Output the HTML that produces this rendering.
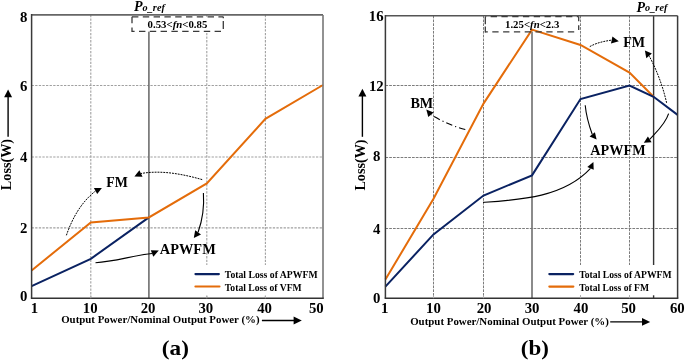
<!DOCTYPE html>
<html><head><meta charset="utf-8"><style>
html,body{margin:0;padding:0;background:#fff;}
svg{display:block;will-change:transform;}
text{font-family:"Liberation Serif", serif;font-weight:bold;fill:#000;}
</style></head><body>
<svg width="685" height="361" viewBox="0 0 685 361">
<rect width="685" height="361" fill="#fff"/>
<line x1="90.80" y1="14.90" x2="90.80" y2="298.30" stroke="#a0a0a0" stroke-width="1.1" stroke-dasharray="2.3 1.3"/>
<line x1="206.80" y1="14.90" x2="206.80" y2="298.30" stroke="#a0a0a0" stroke-width="1.1" stroke-dasharray="2.3 1.3"/>
<line x1="265.40" y1="14.90" x2="265.40" y2="298.30" stroke="#a0a0a0" stroke-width="1.1" stroke-dasharray="2.3 1.3"/>
<line x1="31.60" y1="227.90" x2="323.00" y2="227.90" stroke="#a0a0a0" stroke-width="1.1" stroke-dasharray="2.3 1.3"/>
<line x1="31.60" y1="157.00" x2="323.00" y2="157.00" stroke="#a0a0a0" stroke-width="1.1" stroke-dasharray="2.3 1.3"/>
<line x1="31.60" y1="85.50" x2="323.00" y2="85.50" stroke="#a0a0a0" stroke-width="1.1" stroke-dasharray="2.3 1.3"/>
<line x1="433.50" y1="15.70" x2="433.50" y2="298.20" stroke="#7c7c7c" stroke-width="1.0" stroke-dasharray="2.7 1.1"/>
<line x1="483.50" y1="15.70" x2="483.50" y2="298.20" stroke="#7c7c7c" stroke-width="1.0" stroke-dasharray="2.7 1.1"/>
<line x1="580.50" y1="15.70" x2="580.50" y2="298.20" stroke="#7c7c7c" stroke-width="1.0" stroke-dasharray="2.7 1.1"/>
<line x1="629.50" y1="15.70" x2="629.50" y2="298.20" stroke="#7c7c7c" stroke-width="1.0" stroke-dasharray="2.7 1.1"/>
<line x1="385.40" y1="228.50" x2="677.60" y2="228.50" stroke="#7c7c7c" stroke-width="1.0" stroke-dasharray="2.7 1.1"/>
<line x1="385.40" y1="157.50" x2="677.60" y2="157.50" stroke="#7c7c7c" stroke-width="1.0" stroke-dasharray="2.7 1.1"/>
<line x1="385.40" y1="85.50" x2="677.60" y2="85.50" stroke="#7c7c7c" stroke-width="1.0" stroke-dasharray="2.7 1.1"/>
<line x1="148.90" y1="31.50" x2="148.90" y2="298.30" stroke="#6e6e6e" stroke-width="1.6" />
<line x1="532.00" y1="31.50" x2="532.00" y2="298.20" stroke="#6e6e6e" stroke-width="1.6" />
<line x1="653.60" y1="15.70" x2="653.60" y2="298.20" stroke="#333" stroke-width="1.4" />
<rect x="186" y="265" width="136" height="30.3" fill="#fff"/>
<rect x="540" y="265" width="136.5" height="30.3" fill="#fff"/>
<polyline points="31.60,286.10 90.80,258.80 148.90,217.40" fill="none" stroke="#0A2262" stroke-width="2.0" stroke-linejoin="miter" stroke-miterlimit="10"/>
<polyline points="31.60,270.50 90.80,222.40 148.90,217.40 206.80,183.40 265.40,118.90 323.00,85.00" fill="none" stroke="#E46C0A" stroke-width="2.0" stroke-linejoin="miter" stroke-miterlimit="10"/>
<polyline points="385.40,279.60 433.50,198.70 483.50,103.60 532.00,29.60 580.50,45.00 629.50,72.60 653.60,96.80" fill="none" stroke="#E46C0A" stroke-width="2.0" stroke-linejoin="miter" stroke-miterlimit="10"/>
<polyline points="385.40,286.60 433.50,234.40 483.50,195.50 532.00,175.40 580.50,99.00 629.50,85.60 653.60,96.80 677.60,114.90" fill="none" stroke="#0A2262" stroke-width="2.0" stroke-linejoin="miter" stroke-miterlimit="10"/>
<line x1="31.60" y1="14.90" x2="323.00" y2="14.90" stroke="#666" stroke-width="1.6" />
<line x1="323.00" y1="14.90" x2="323.00" y2="298.30" stroke="#777" stroke-width="1.6" />
<line x1="31.60" y1="14.10" x2="31.60" y2="298.30" stroke="#3a3a3a" stroke-width="1.5" />
<line x1="30.85" y1="298.30" x2="323.80" y2="298.30" stroke="#333" stroke-width="1.5" />
<line x1="385.40" y1="15.70" x2="677.60" y2="15.70" stroke="#555" stroke-width="1.6" />
<line x1="677.60" y1="15.70" x2="677.60" y2="298.20" stroke="#3a3a3a" stroke-width="1.5" />
<line x1="385.40" y1="14.90" x2="385.40" y2="298.20" stroke="#3a3a3a" stroke-width="1.5" />
<line x1="384.65" y1="298.20" x2="678.35" y2="298.20" stroke="#333" stroke-width="1.5" />
<line x1="90.80" y1="295.50" x2="90.80" y2="298.30" stroke="#b0b0b0" stroke-width="1.1" />
<line x1="206.80" y1="295.50" x2="206.80" y2="298.30" stroke="#b0b0b0" stroke-width="1.1" />
<line x1="265.40" y1="295.50" x2="265.40" y2="298.30" stroke="#b0b0b0" stroke-width="1.1" />
<line x1="433.50" y1="295.40" x2="433.50" y2="298.20" stroke="#b0b0b0" stroke-width="1.1" />
<line x1="483.50" y1="295.40" x2="483.50" y2="298.20" stroke="#b0b0b0" stroke-width="1.1" />
<line x1="580.50" y1="295.40" x2="580.50" y2="298.20" stroke="#b0b0b0" stroke-width="1.1" />
<line x1="629.50" y1="295.40" x2="629.50" y2="298.20" stroke="#b0b0b0" stroke-width="1.1" />
<rect x="132" y="16.8" width="91.3" height="14.5" fill="#fff"/>
<line x1="132.00" y1="16.90" x2="223.30" y2="16.90" stroke="#3a3a3a" stroke-width="1.3" stroke-dasharray="6.4 4.4" stroke-dashoffset="0.00"/>
<line x1="132.00" y1="31.30" x2="223.30" y2="31.30" stroke="#3a3a3a" stroke-width="1.3" stroke-dasharray="6.4 4.4" stroke-dashoffset="3.80"/>
<line x1="132.00" y1="16.80" x2="132.00" y2="31.90" stroke="#3a3a3a" stroke-width="1.3" stroke-dasharray="6.4 4.4" stroke-dashoffset="0.00"/>
<line x1="223.30" y1="16.80" x2="223.30" y2="31.30" stroke="#3a3a3a" stroke-width="1.3" stroke-dasharray="8 2.8" stroke-dashoffset="-4.20"/>
<line x1="485.30" y1="16.70" x2="578.70" y2="16.70" stroke="#3a3a3a" stroke-width="1.3" stroke-dasharray="6.3 4.47" stroke-dashoffset="5.40"/>
<line x1="485.30" y1="31.80" x2="578.70" y2="31.80" stroke="#3a3a3a" stroke-width="1.3" stroke-dasharray="6.3 4.5" stroke-dashoffset="3.80"/>
<line x1="485.30" y1="16.70" x2="485.30" y2="32.40" stroke="#3a3a3a" stroke-width="1.3" stroke-dasharray="7.2 2.3" stroke-dashoffset="-0.30"/>
<line x1="578.70" y1="16.70" x2="578.70" y2="32.40" stroke="#3a3a3a" stroke-width="1.3" stroke-dasharray="4.6 4.0" stroke-dashoffset="0.00"/>
<line x1="195.40" y1="274.10" x2="218.90" y2="274.10" stroke="#0A2262" stroke-width="2.1" stroke-linecap="round"/>
<line x1="195.40" y1="286.50" x2="219.50" y2="286.50" stroke="#E46C0A" stroke-width="2.1" stroke-linecap="round"/>
<text x="224.80" y="278.00" font-size="10.8" textLength="92.76" lengthAdjust="spacingAndGlyphs" >Total Loss of APWFM</text>
<text x="224.80" y="290.50" font-size="10.8" textLength="76.92" lengthAdjust="spacingAndGlyphs" >Total Loss of VFM</text>
<line x1="549.30" y1="274.10" x2="573.20" y2="274.10" stroke="#0A2262" stroke-width="2.1" stroke-linecap="round"/>
<line x1="549.30" y1="286.60" x2="573.40" y2="286.60" stroke="#E46C0A" stroke-width="2.1" stroke-linecap="round"/>
<text x="579.20" y="278.10" font-size="10.8" textLength="92.46" lengthAdjust="spacingAndGlyphs" >Total Loss of APWFM</text>
<text x="579.20" y="290.50" font-size="10.8" textLength="69.78" lengthAdjust="spacingAndGlyphs" >Total Loss of FM</text>
<text x="20.00" y="301.30" font-size="14.8" textLength="7.40" lengthAdjust="spacingAndGlyphs" >0</text>
<text x="20.00" y="233.00" font-size="14.8" textLength="7.40" lengthAdjust="spacingAndGlyphs" >2</text>
<text x="20.07" y="161.50" font-size="14.8" textLength="7.40" lengthAdjust="spacingAndGlyphs" >4</text>
<text x="20.00" y="90.50" font-size="14.8" textLength="7.40" lengthAdjust="spacingAndGlyphs" >6</text>
<text x="20.00" y="21.90" font-size="14.8" textLength="7.40" lengthAdjust="spacingAndGlyphs" >8</text>
<text x="30.78" y="313.00" font-size="14.8" textLength="7.40" lengthAdjust="spacingAndGlyphs" >1</text>
<text x="82.80" y="313.00" font-size="14.8" textLength="14.80" lengthAdjust="spacingAndGlyphs" >10</text>
<text x="140.70" y="313.00" font-size="14.8" textLength="14.80" lengthAdjust="spacingAndGlyphs" >20</text>
<text x="198.40" y="313.00" font-size="14.8" textLength="14.80" lengthAdjust="spacingAndGlyphs" >30</text>
<text x="257.22" y="313.00" font-size="14.8" textLength="14.80" lengthAdjust="spacingAndGlyphs" >40</text>
<text x="308.90" y="313.00" font-size="14.8" textLength="14.80" lengthAdjust="spacingAndGlyphs" >50</text>
<text x="372.90" y="303.10" font-size="14.8" textLength="7.40" lengthAdjust="spacingAndGlyphs" >0</text>
<text x="372.97" y="233.80" font-size="14.8" textLength="7.40" lengthAdjust="spacingAndGlyphs" >4</text>
<text x="372.90" y="161.20" font-size="14.8" textLength="7.40" lengthAdjust="spacingAndGlyphs" >8</text>
<text x="368.90" y="91.40" font-size="14.8" textLength="14.80" lengthAdjust="spacingAndGlyphs" >12</text>
<text x="368.83" y="20.70" font-size="14.8" textLength="14.80" lengthAdjust="spacingAndGlyphs" >16</text>
<text x="380.98" y="313.10" font-size="14.8" textLength="7.40" lengthAdjust="spacingAndGlyphs" >1</text>
<text x="426.10" y="313.10" font-size="14.8" textLength="14.80" lengthAdjust="spacingAndGlyphs" >10</text>
<text x="476.70" y="313.10" font-size="14.8" textLength="14.80" lengthAdjust="spacingAndGlyphs" >20</text>
<text x="524.70" y="313.10" font-size="14.8" textLength="14.80" lengthAdjust="spacingAndGlyphs" >30</text>
<text x="573.62" y="313.10" font-size="14.8" textLength="14.80" lengthAdjust="spacingAndGlyphs" >40</text>
<text x="621.20" y="313.10" font-size="14.8" textLength="14.80" lengthAdjust="spacingAndGlyphs" >50</text>
<text x="669.97" y="313.10" font-size="14.8" textLength="14.80" lengthAdjust="spacingAndGlyphs" >60</text>
<text x="61.16" y="323.30" font-size="10.6" textLength="198.36" lengthAdjust="spacingAndGlyphs" >Output Power/Nominal Output Power (%)</text>
<line x1="261.90" y1="320.50" x2="295.00" y2="320.50" stroke="#000" stroke-width="1.4" />
<path d="M301.8,320.5 L293.6,316.6 L293.6,324.4 z" fill="#000"/>
<text x="410.16" y="324.50" font-size="10.6" textLength="198.66" lengthAdjust="spacingAndGlyphs" >Output Power/Nominal Output Power (%)</text>
<line x1="610.20" y1="321.90" x2="643.00" y2="321.90" stroke="#000" stroke-width="1.4" />
<path d="M650.2,321.9 L642,318.0 L642,325.8 z" fill="#000"/>
<text transform="translate(11.3,190.18) rotate(-90)" x="0" y="0" font-size="15" textLength="51.27" lengthAdjust="spacingAndGlyphs">Loss(W)</text>
<line x1="8.10" y1="136.80" x2="8.10" y2="96.00" stroke="#000" stroke-width="1.4" />
<path d="M8.1,89.4 L4.1,97.2 L12.1,97.2 z" fill="#000"/>
<text transform="translate(365.0,190.58) rotate(-90)" x="0" y="0" font-size="15" textLength="51.17" lengthAdjust="spacingAndGlyphs">Loss(W)</text>
<line x1="362.40" y1="136.80" x2="362.40" y2="96.00" stroke="#000" stroke-width="1.4" />
<path d="M362.4,88.8 L358.4,96.6 L366.4,96.6 z" fill="#000"/>
<text x="161.87" y="355.00" font-size="22" textLength="27.10" lengthAdjust="spacingAndGlyphs" >(a)</text>
<text x="520.88" y="355.00" font-size="22" textLength="28.09" lengthAdjust="spacingAndGlyphs" >(b)</text>
<text x="133.9" y="10.9" font-size="14" font-style="italic">P<tspan font-size="10.2" dy="-0.1" letter-spacing="0.1">o_ref</tspan></text>
<text x="636.4" y="11.5" font-size="14" font-style="italic">P<tspan font-size="10.2" dy="-0.1" letter-spacing="0.1">o_ref</tspan></text>
<text x="147.6" y="27.8" font-size="10.8">0.53&lt;<tspan font-style="italic">fn</tspan>&lt;0.85</text>
<text x="505.0" y="27.6" font-size="10.8">1.25&lt;<tspan font-style="italic">fn</tspan>&lt;2.3</text>
<text x="106.32" y="187.00" font-size="15" textLength="21.62" lengthAdjust="spacingAndGlyphs" >FM</text>
<text x="159.86" y="254.00" font-size="15" textLength="55.84" lengthAdjust="spacingAndGlyphs" >APWFM</text>
<text x="410.42" y="107.80" font-size="15" textLength="22.78" lengthAdjust="spacingAndGlyphs" >BM</text>
<text x="623.22" y="46.80" font-size="15" textLength="21.93" lengthAdjust="spacingAndGlyphs" >FM</text>
<text x="590.36" y="155.00" font-size="15.4" textLength="55.24" lengthAdjust="spacingAndGlyphs" >APWFM</text>
<path d="M66.40,235.30 C72.31,218.15 81.14,202.31 95.50,191.00" fill="none" stroke="#000" stroke-width="1.0" stroke-dasharray="1.9 1.0"/>
<path d="M101.9,188 L93.9,188 L97.2,193.9 z" fill="#000"/>
<path d="M202.20,179.60 C182.68,174.06 161.31,169.97 141.00,173.50" fill="none" stroke="#000" stroke-width="1.0" stroke-dasharray="1.9 1.0"/>
<path d="M134.4,176.4 L139.4,170.3 L142.5,176.8 z" fill="#000"/>
<path d="M203.40,193.00 C204.35,206.28 202.52,219.72 198.10,232.30" fill="none" stroke="#000" stroke-width="1.1" />
<path d="M193.8,238 L195.2,230.3 L201,234.4 z" fill="#000"/>
<path d="M95.50,262.70 C114.70,261.82 132.98,255.39 152.00,253.50" fill="none" stroke="#000" stroke-width="1.1" />
<path d="M158.8,250.6 L150.8,250.3 L153.3,256.7 z" fill="#000"/>
<path d="M465.30,129.50 C453.08,126.57 441.72,121.11 431.00,114.70" fill="none" stroke="#000" stroke-width="1.1" stroke-dasharray="6.5 3 1.2 3"/>
<path d="M426.3,109.4 L433.6,112.5 L428.3,116.9 z" fill="#000"/>
<path d="M589.80,46.60 C596.53,42.74 604.14,41.24 611.70,40.10" fill="none" stroke="#000" stroke-width="1.0" stroke-dasharray="1.9 1.0"/>
<path d="M618.8,41.2 L612.4,36.5 L611,43.6 z" fill="#000"/>
<path d="M666.60,102.80 C662.90,86.44 656.97,70.58 649.10,55.80" fill="none" stroke="#000" stroke-width="1.0" stroke-dasharray="1.9 1.0"/>
<path d="M644.9,50.4 L651.9,53.4 L646.3,58.2 z" fill="#000"/>
<path d="M585.20,105.20 C586.15,115.15 588.86,124.91 592.20,134.30" fill="none" stroke="#000" stroke-width="1.1" />
<path d="M596.6,139.4 L589.6,136.4 L594.9,132.2 z" fill="#000"/>
<path d="M668.60,113.60 C665.36,124.14 656.80,131.50 649.70,139.40" fill="none" stroke="#000" stroke-width="1.1" />
<path d="M643.8,142.7 L647.9,136.6 L651.6,142.2 z" fill="#000"/>
<path d="M483.10,202.40 C519.93,199.93 563.69,197.41 590.50,168.40" fill="none" stroke="#000" stroke-width="1.1" />
<path d="M593.4,162 L587.3,167 L593.7,169.8 z" fill="#000"/>
</svg>
</body></html>
